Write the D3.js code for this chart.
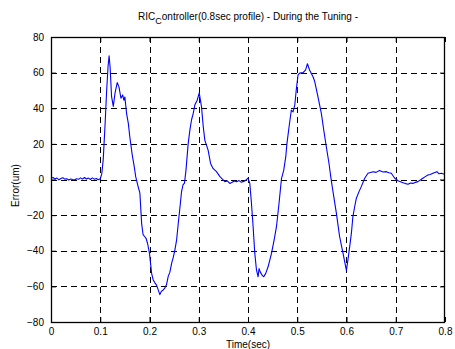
<!DOCTYPE html>
<html>
<head>
<meta charset="utf-8">
<script src="https://cdn.jsdelivr.net/npm/d3@7"></script>
<style>
  html, body { margin: 0; padding: 0; background: #fff; }
  text { font-family: "Liberation Sans", Arial, sans-serif; }
</style>
</head>
<body>
<svg id="chart" width="455" height="349"></svg>
<script>
// ---- data ----
const timeSec = [
  0.000,0.004,0.008,0.012,0.016,0.020,0.024,0.028,0.032,0.036,0.040,0.044,0.048,0.052,0.056,0.060,0.064,0.068,0.072,0.076,0.080,0.084,0.088,0.092,0.096,0.100,
  0.103,0.106,0.110,0.113,0.116,0.118,0.120,0.123,0.1265,0.130,0.1345,0.138,0.142,0.1455,0.148,0.150,0.1535,0.157,0.160,0.165,0.169,0.172,0.176,0.1805,
  0.184,0.187,0.190,0.193,0.196,0.200,0.2043,0.2075,0.211,0.2143,0.2177,0.221,0.224,0.2278,0.231,0.2346,0.238,0.2414,0.245,0.248,0.2515,0.255,0.2583,0.2617,
  0.265,0.268,0.271,0.274,0.2785,0.282,0.2853,0.2887,0.292,0.2968,0.301,0.3056,0.309,0.3124,0.316,0.319,0.324,0.329,0.336,0.343,0.348,0.353,0.358,0.363,
  0.368,0.372,0.3767,0.382,0.386,0.390,0.395,0.400,0.4036,0.407,0.4104,0.4138,0.4172,0.4205,0.4225,0.425,0.4294,0.432,0.436,0.4408,0.4477,0.453,0.4578,
  0.463,0.468,0.4726,0.4767,0.479,0.4834,0.488,0.4915,0.495,0.498,0.5016,0.505,0.5118,0.517,0.5207,0.525,0.532,0.5355,0.542,0.549,0.5538,0.559,0.5645,
  0.568,0.571,0.5795,0.586,0.593,0.5998,0.603,0.6065,0.610,0.613,0.6166,0.620,0.6254,0.630,0.637,0.6436,0.654,0.660,0.667,0.674,0.681,0.686,0.691,0.698,
  0.7045,0.7146,0.720,0.725,0.730,0.735,0.740,0.745,0.750,0.755,0.760,0.7653,0.770,0.7755,0.7836,0.788,0.7925,0.799
];
const errorUm = [
  0.5,1.2,0.3,0.8,-0.2,0.6,1.0,0.2,0.4,-0.3,0.3,0.0,-0.2,0.4,0.1,0.9,0.2,1.1,0.3,0.8,0.0,0.9,0.2,0.6,-0.1,0.4,
  3,11,32,50,64,69.5,63,46.5,41,48.5,54.4,52,45.6,47.5,44.5,46.3,37,31.5,24,13.7,7.2,1.6,-3,-7.7,
  -24.6,-31,-32,-33,-35.8,-41.5,-52.7,-56.4,-58,-59.3,-62,-64.6,-62.8,-62,-61,-59,-54.4,-52,-47,-44,-39.6,-34,-25,-16,
  -7,-3,-2,5,20,27.7,33.4,37,41.8,44.5,48.6,40.8,30,22,19,16.5,9,6.2,4.4,1.6,0.2,-1.2,-0.8,-2.2,
  -1.5,-0.8,-1.2,-0.6,-1.5,-1.2,-0.5,0.8,-2,-13.3,-26.5,-41.5,-50.8,-54.6,-50,-52,-54,-54.6,-52.7,-49,-41.5,-34,-26.5,
  -13.3,0.5,5.3,12.8,20,29.6,39,38,41.8,50.3,58.7,59.7,60,61.5,65,61.5,57.7,55,46.5,37,27.8,18.4,9,
  1.6,-4,-19,-32,-41.5,-51,-45,-37.7,-30,-20.8,-15.3,-10.5,-6.8,-4,0.7,3.5,4.4,4.0,5,4.2,4.4,3.8,3.5,0.7,
  -0.7,-1.8,-2.3,-2.7,-2.0,-2.2,-1.6,-1.2,-0.3,0.7,1.6,2.5,2.8,3.5,4.4,3.2,3.5,3
];
const xTicks = [0,0.1,0.2,0.3,0.4,0.5,0.6,0.7,0.8];
const yTicks = [-80,-60,-40,-20,0,20,40,60,80];
const xDomain = [0, 0.8];
const yDomain = [-80, 80];

// ---- layout ----
const svg = d3.select("#chart");
const L = 51, R = 445, T = 37, B = 322;
const x = d3.scaleLinear().domain(xDomain).range([L, R]);
const y = d3.scaleLinear().domain(yDomain).range([B, T]);

// grid
const grid = svg.append("g").attr("stroke", "#000").attr("stroke-width", 1)
  .attr("stroke-dasharray", "6,4").attr("shape-rendering", "crispEdges");
xTicks.slice(1, -1).forEach(t => {
  grid.append("line").attr("x1", Math.round(x(t)) + 0.5).attr("x2", Math.round(x(t)) + 0.5)
    .attr("y1", T).attr("y2", B);
});
yTicks.slice(1, -1).forEach(v => {
  grid.append("line").attr("y1", Math.round(y(v)) + 0.5).attr("y2", Math.round(y(v)) + 0.5)
    .attr("x1", L).attr("x2", R);
});

// line
const line = d3.line().x((d, i) => x(timeSec[i])).y(d => y(d));
svg.append("path").datum(errorUm).attr("d", line)
  .attr("fill", "none").attr("stroke", "#0000ff").attr("stroke-width", 1.1)
  .attr("stroke-linejoin", "round");

// axes (ticks inside)
const tickLen = 5;
const xAxis = d3.axisBottom(x).tickValues(xTicks).tickSizeInner(-tickLen).tickSizeOuter(0)
  .tickPadding(6).tickFormat(d => d === 0 ? "0" : d3.format(".1f")(d));
svg.append("g").attr("transform", `translate(0,${B})`).call(xAxis);
const yAxis = d3.axisLeft(y).tickValues(yTicks).tickSizeInner(-tickLen).tickSizeOuter(0)
  .tickPadding(7).tickFormat(d3.format("d"));
svg.append("g").attr("transform", `translate(${L},0)`).call(yAxis);
const xTop = d3.axisTop(x).tickValues(xTicks).tickSizeInner(-tickLen).tickSizeOuter(0).tickFormat("");
svg.append("g").attr("transform", `translate(0,${T})`).call(xTop);
const yRight = d3.axisRight(y).tickValues(yTicks).tickSizeInner(-tickLen).tickSizeOuter(0).tickFormat("");
svg.append("g").attr("transform", `translate(${R},0)`).call(yRight);
svg.selectAll(".domain").remove();
svg.selectAll(".tick line").attr("stroke", "#000");
svg.selectAll(".tick text").attr("font-size", 10).attr("fill", "#000")
  .attr("font-family", "Liberation Sans, Arial, sans-serif");

// box
svg.append("rect").attr("x", L + 0.5).attr("y", T + 0.5).attr("width", R - L - 1).attr("height", B - T)
  .attr("fill", "none").attr("stroke", "#000").attr("stroke-width", 1.3);

// labels
svg.append("text").attr("x", (L + R) / 2).attr("y", 348).attr("text-anchor", "middle")
  .attr("font-size", 10).text("Time(sec)");
svg.append("text").attr("transform", `translate(19,${(T + B) / 2 + 6}) rotate(-90)`)
  .attr("text-anchor", "middle").attr("font-size", 10).text("Error(um)");
const title = svg.append("text").attr("x", 248).attr("y", 20).attr("text-anchor", "middle")
  .attr("font-size", 10);
title.append("tspan").text("RIC");
title.append("tspan").attr("dy", 4).attr("font-size", 9).text("C");
title.append("tspan").attr("dy", -4).text("ontroller(0.8sec  profile) - During the Tuning -");
</script>
</body>
</html>
